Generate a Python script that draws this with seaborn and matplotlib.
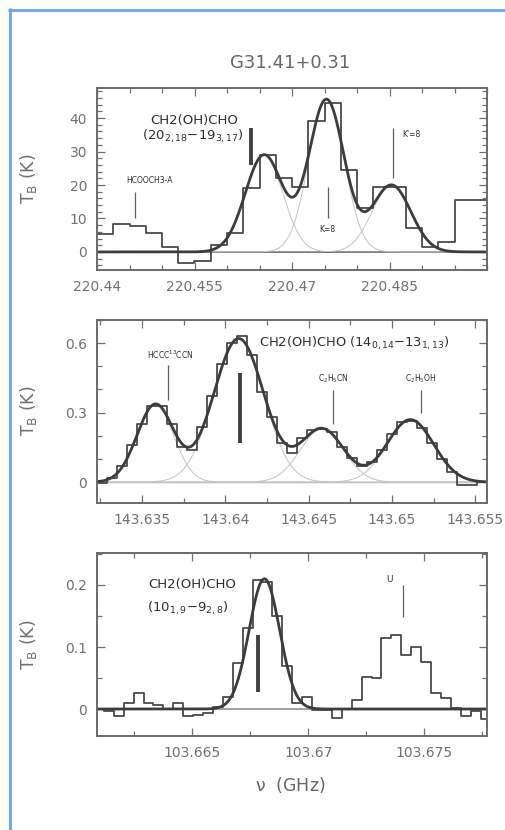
import numpy as np
import pandas as pd
import matplotlib
matplotlib.use("Agg")
import matplotlib.pyplot as plt
import seaborn as sns
from matplotlib.ticker import MultipleLocator, FixedLocator, FuncFormatter
from matplotlib.lines import Line2D

# ---------------- data ----------------
# Panel 1 (220 GHz): spectrum channels (left edge of first channel, width), brightness T_B (K)
top_chan_start = 220.44
top_chan_width = 0.0025
top_tb = [5.4, 8.4, 7.9, 5.7, 1.6, -3.2, -2.6, 2.1, 5.6, 19.0, 29.0, 22.0,
          19.5, 39.0, 44.5, 24.5, 13.1, 19.5, 19.5, 7.2, 1.6, 3.1, 15.5, 15.5]
top_fit_center = [220.4657, 220.4753, 220.4853]
top_fit_peak = [29.0, 45.5, 20.0]
top_fit_fwhm = [0.0068, 0.0064, 0.0070]

# Panel 2 (143.6 GHz)
mid_chan_start = 143.6323
mid_chan_width = 0.0006
mid_tb = [-0.005, 0.02, 0.07, 0.16, 0.25, 0.33, 0.33, 0.25, 0.15, 0.14, 0.24, 0.37,
          0.51, 0.60, 0.63, 0.55, 0.39, 0.28, 0.17, 0.125, 0.19, 0.225, 0.23, 0.215,
          0.15, 0.105, 0.07, 0.085, 0.14, 0.21, 0.26, 0.265, 0.235, 0.17, 0.10, 0.045,
          -0.012, -0.012, 0.0]
mid_fit_center = [143.6358, 143.6408, 143.6458, 143.6511]
mid_fit_peak = [0.335, 0.62, 0.23, 0.27]
mid_fit_fwhm = [0.00259, 0.00356, 0.00306, 0.0033]

# Panel 3 (103.67 GHz)
bot_chan_start = 103.66077
bot_chan_width = 0.000427
bot_tb = [0.0, -0.003, -0.012, 0.01, 0.026, 0.01, 0.007, 0.0, 0.01, -0.012,
          -0.01, -0.006, 0.004, 0.02, 0.074, 0.13, 0.208, 0.205, 0.15, 0.07,
          0.01, 0.02, -0.002, -0.002, -0.015, 0.0, 0.015, 0.052, 0.05, 0.114,
          0.12, 0.087, 0.10, 0.076, 0.026, 0.018, 0.001, -0.012, -0.003, -0.016]
bot_fit_center = [103.66811]
bot_fit_peak = [0.21]
bot_fit_fwhm = [0.00155]

# axis ranges and labelled ticks
top_xlim, top_ylim = (220.44, 220.50), (-5.4, 49.0)
mid_xlim, mid_ylim = (143.6323, 143.6557), (-0.09, 0.70)
bot_xlim, bot_ylim = (103.6609, 103.6777), (-0.0435, 0.2516)
top_xticks = [220.44, 220.455, 220.47, 220.485]
mid_xticks = [143.635, 143.64, 143.645, 143.65, 143.655]
bot_xticks = [103.665, 103.67, 103.675]
top_yticks = [0, 10, 20, 30, 40]
mid_yticks = [0, 0.3, 0.6]
bot_yticks = [0, 0.1, 0.2]

title = "G31.41+0.31"
ylabel = "T$_\\mathrm{B}$ (K)"
xlabel = "$\\nu$  (GHz)"

# line markers: (freq, y0, y1, thick)
top_marks = [(220.4637, 26.0, 37.0, True), (220.4458, 10.0, 18.0, False),
             (220.4756, 10.1, 19.4, False), (220.4856, 22.0, 37.0, False)]
mid_marks = [(143.6409, 0.167, 0.47, True), (143.63658, 0.354, 0.505, False),
             (143.64643, 0.253, 0.397, False), (143.65175, 0.297, 0.397, False)]
bot_marks = [(103.66784, 0.028, 0.119, True), (103.67406, 0.149, 0.20, False)]

# labels: (freq, y, text, size, ha)
top_texts = [(220.4550, 39.4, "CH2(OH)CHO", 9.5, "center"),
             (220.4547, 34.6, "(20$_{2,18}$\u221219$_{3,17}$)", 9.5, "center"),
             (220.4481, 21.5, "HCOOCH3-A", 5.5, "center"),
             (220.4755, 6.6, "K=8", 5.5, "center"),
             (220.4869, 35.0, "K'=8", 5.5, "left")]
mid_texts = [(143.63669, 0.548, "HCCC$^{13}$CCN", 5.5, "center"),
             (143.6420, 0.600, "CH2(OH)CHO (14$_{0,14}$\u221213$_{1,13}$)", 9.4, "left"),
             (143.6465, 0.448, "C$_2$H$_5$CN", 5.5, "center"),
             (143.65175, 0.448, "C$_2$H$_5$OH", 5.5, "center")]
bot_texts = [(103.6650, 0.200, "CH2(OH)CHO", 9.5, "center"),
             (103.6648, 0.163, "(10$_{1,9}$\u22129$_{2,8}$)", 9.5, "center"),
             (103.6735, 0.209, "U", 6.5, "center")]


def gauss(x, c, a, fwhm):
    return a * np.exp(-4.0 * np.log(2.0) * (x - c) ** 2 / fwhm ** 2)


sns.set_style("ticks")
plt.rcParams["font.family"] = ["DejaVu Sans"]
plt.rcParams["mathtext.default"] = "regular"

W, H = 506, 830
fig = plt.figure(figsize=(W / 100, H / 100), dpi=100)

TICK = "#707070"
SPINE = "#6a6a6a"


def make_panel(rect, start, width, tb, centers, peaks, fwhms, xlim, ylim,
               xticks, xmin, yticks, ymin, marks, texts, base_color, base_lw):
    ax = fig.add_axes(rect)
    n = len(tb)
    edges = start + width * np.arange(n + 1)
    df = pd.DataFrame({"freq": edges, "tb": list(tb) + [tb[-1]]})
    grid = np.linspace(xlim[0], xlim[1], 800)
    total = np.zeros_like(grid)
    for c, a, f in zip(centers, peaks, fwhms):
        comp = gauss(grid, c, a, f)
        total += comp
        if len(centers) > 1:
            sns.lineplot(x=grid, y=comp, ax=ax, color="#c4c4c4", lw=0.7,
                         sort=False, estimator=None)
    ax.axhline(0, color=base_color, lw=base_lw, zorder=1)
    sns.lineplot(data=df, x="freq", y="tb", ax=ax, drawstyle="steps-post",
                 color="#4a4a4a", lw=1.3, sort=False, estimator=None)
    sns.lineplot(x=grid, y=total, ax=ax, color="#3c3c3c", lw=2.0,
                 sort=False, estimator=None)
    for fx, y0, y1, thick in marks:
        ax.plot([fx, fx], [y0, y1], color="#404040" if thick else "#606060",
                lw=2.8 if thick else 0.9, solid_capstyle="butt")
    for fx, y, s, size, ha in texts:
        ax.text(fx, y, s, fontsize=size, ha=ha, va="center", color="#2e2e2e")
    ax.set_xlim(*xlim)
    ax.set_ylim(*ylim)
    ax.set_xlabel("")
    ax.set_ylabel("")
    ax.xaxis.set_major_locator(FixedLocator(xticks))
    ax.xaxis.set_minor_locator(MultipleLocator(xmin))
    ax.yaxis.set_major_locator(FixedLocator(yticks))
    ax.yaxis.set_minor_locator(MultipleLocator(ymin))
    ax.xaxis.set_major_formatter(FuncFormatter(
        lambda v, p: f"{v:.3f}".rstrip("0").rstrip(".")))
    ax.yaxis.set_major_formatter(FuncFormatter(
        lambda v, p: "0" if abs(v) < 1e-9 else f"{v:g}"))
    ax.tick_params(which="both", direction="in", top=True, right=True,
                   color=TICK, labelcolor=TICK, labelsize=10, width=0.9)
    ax.tick_params(which="major", length=5.5, pad=7)
    ax.tick_params(which="minor", length=3.5)
    for sp in ax.spines.values():
        sp.set_color(SPINE)
        sp.set_linewidth(1.4)
    return ax


def rect(top_px, bot_px):
    return [97 / W, 1 - bot_px / H, 390 / W, (bot_px - top_px) / H]


ax1 = make_panel(rect(88, 270), top_chan_start, top_chan_width, top_tb,
                 top_fit_center, top_fit_peak, top_fit_fwhm, top_xlim, top_ylim,
                 top_xticks, 0.005, top_yticks, 2, top_marks, top_texts,
                 "#505050", 1.4)
ax2 = make_panel(rect(320, 503), mid_chan_start, mid_chan_width, mid_tb,
                 mid_fit_center, mid_fit_peak, mid_fit_fwhm, mid_xlim, mid_ylim,
                 mid_xticks, 0.0025, mid_yticks, 0.1, mid_marks, mid_texts,
                 "#b0b0b0", 1.0)
ax3 = make_panel(rect(553, 736), bot_chan_start, bot_chan_width, bot_tb,
                 bot_fit_center, bot_fit_peak, bot_fit_fwhm, bot_xlim, bot_ylim,
                 bot_xticks, 0.0025, bot_yticks, 0.05, bot_marks, bot_texts,
                 "#909090", 1.2)

fig.text(290 / W, 1 - 63 / H, title, ha="center", va="center",
         fontsize=13, color="#666666")
fig.text(290 / W, 1 - 785 / H, xlabel, ha="center", va="center",
         fontsize=12.5, color="#666666")
for ycen in (179, 411, 645):
    fig.text(29 / W, 1 - ycen / H, ylabel, ha="center", va="center",
             rotation=90, fontsize=12.5, color="#707070")

# blue frame (left and top edges)
frame = "#6aa6e2"
fig.add_artist(Line2D([10.3 / W, 10.3 / W], [0, 1 - 9.0 / H],
                      transform=fig.transFigure, color=frame, lw=2.0))
fig.add_artist(Line2D([9.3 / W, 1], [1 - 10.3 / H, 1 - 10.3 / H],
                      transform=fig.transFigure, color=frame, lw=2.0))

fig.savefig("out.png", dpi=100, facecolor="white")
